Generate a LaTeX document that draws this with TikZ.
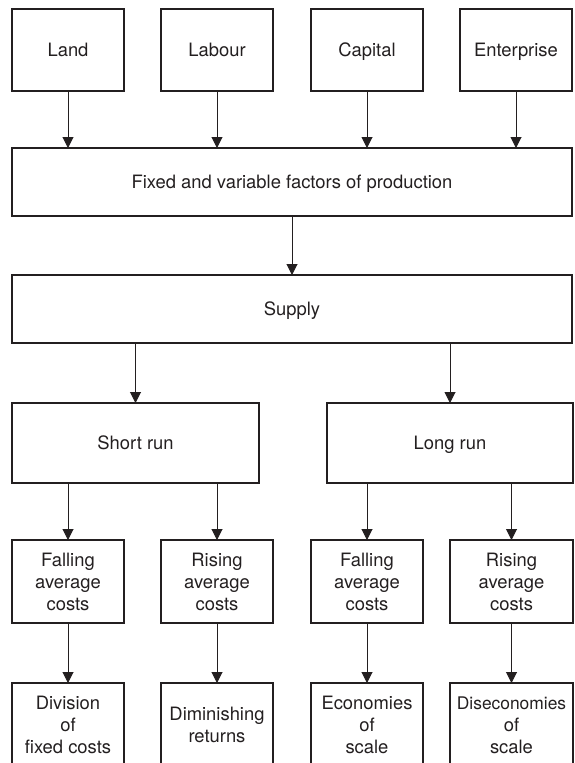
\documentclass[tikz,border=0pt]{standalone}
\usepackage{fontspec}
\setmainfont{TeX Gyre Heros}
\usetikzlibrary{positioning, arrows.meta}
\definecolor{inkgray}{RGB}{35,31,32}
\tikzstyle{box} = [draw=inkgray, line width=1.4pt, rectangle, align=center, inner sep=1pt, outer sep=0pt, text=inkgray]
\tikzstyle{oneline} = [box, text height=13.2pt, text depth=0pt]
\tikzstyle{topbox} = [oneline, minimum width=112pt, minimum height=82pt]
\tikzstyle{widebox} = [oneline, minimum width=560pt, minimum height=68pt]
\tikzstyle{runbox} = [oneline, minimum width=247pt, minimum height=80pt]
\tikzstyle{smallbox} = [box, minimum width=112pt, minimum height=83pt]
\tikzstyle{endbox} = [box, minimum width=112pt, minimum height=84pt]
\tikzstyle{line} = [draw=inkgray, line width=1pt, -{Triangle[width=11pt,length=11pt]}]

\begin{document}
\begin{tikzpicture}[font=\fontsize{18.4}{22}\selectfont]
	\useasboundingbox (0,0) rectangle (574pt,-763pt);
	\clip (0,0) rectangle (574pt,-763pt);
	\node [topbox] (land) at (68pt,-50pt) {Land};
	\node [topbox, right=37pt of land] (labour) {Labour};
	\node [topbox, right=38pt of labour] (capital) {Capital};
	\node [topbox, right=37pt of capital] (enterprise) {Enterprise};
	\node [widebox, below right=57pt and 0pt of land.south west] (fixed) {Fixed and variable factors of production};
	\node [widebox, below=59pt of fixed] (supply) {Supply};
	\node [runbox, below right=60pt and 0pt of supply.south west] (short) {Short run};
	\node [runbox, minimum width=246pt, right=68pt of short] (long) {Long run};
	\node [smallbox, below right=57pt and 0pt of short.south west] (fallsr) {Falling\\average\\costs};
	\node [smallbox, right=37pt of fallsr] (risesr) {Rising\\average\\costs};
	\node [smallbox, right=38pt of risesr] (falllr) {Falling\\average\\costs};
	\node [smallbox, minimum width=123pt, right=27pt of falllr] (riselr) {Rising\\average\\costs};
	\node [endbox, below=60pt of fallsr] (division) {Division\\of\\fixed costs};
	\node [endbox, below=60pt of risesr] (diminish) {Diminishing\\returns};
	\node [endbox, below=60pt of falllr] (econ) {Economies\\of\\scale};
	\node [endbox, minimum width=123pt, below=60pt of riselr] (disecon) {{\fontsize{17.4}{22}\selectfont Diseconomies}\\of\\scale};
	
	\foreach \n in {land, labour, capital, enterprise}
		\path [line] (\n) -- (\n |- fixed.north);
	\path [line] (fixed) -- (supply);
	\path [line] (short |- supply.south) -- (short);
	\path [line] (long |- supply.south) -- (long);
	\path [line] (fallsr |- short.south) -- (fallsr);
	\path [line] (risesr |- short.south) -- (risesr);
	\path [line] (falllr |- long.south) -- (falllr);
	\path [line] (riselr |- long.south) -- (riselr);
	\path [line] (fallsr) -- (division);
	\path [line] (risesr) -- (diminish);
	\path [line] (falllr) -- (econ);
	\path [line] (riselr) -- (disecon);
\end{tikzpicture}
\end{document}
